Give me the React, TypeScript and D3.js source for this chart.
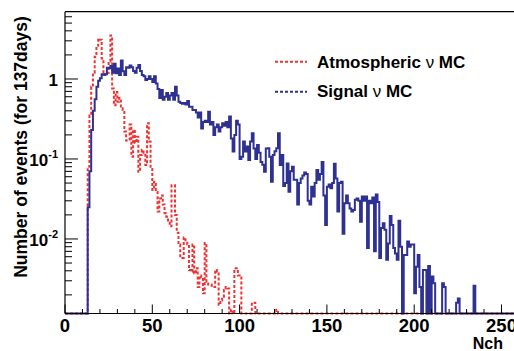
import React from "react";
import * as d3 from "d3";

const W = 514;
const H = 351;
const plotLeft = 65;
const plotTop = 11.7;
const plotBottom = 313.5;
const X_MAX = 260;
const PX_PER_NCH = 1.746;
const Y_MIN = 0.00117;
const Y_MAX = 6.94;

// axis ticks
const nchTicks = [0, 50, 100, 150, 200, 250];
const yMajorValues = [1, 0.1, 0.01];
const yMajorLabels = [
  { base: "1", exp: "" },
  { base: "10", exp: "-1" },
  { base: "10", exp: "-2" },
];

// first filled bin (Nch), bins are 1 Nch wide
const binStart = 13;

// Signal nu MC, events per bin from Nch = 13
const signalMC = [
  0.025, 0.07, 0.23, 0.40, 0.56, 0.80, 0.95, 1.02, 1.15, 1.13,
  1.15, 1.38, 1.36, 1.45, 1.20, 1.55, 1.18, 1.35, 1.12, 1.70,
  1.25, 1.12, 1.40, 1.38, 1.48, 1.40, 1.26, 1.20, 1.38, 1.50,
  1.26, 1.12, 1.08, 0.97, 1.00, 1.08, 1.00, 0.92, 1.08, 0.88,
  0.75, 0.58, 0.73, 0.55, 0.60, 0.67, 0.55, 0.62,
  0.67, 0.55, 0.80, 0.62, 0.52, 0.50, 0.49, 0.50, 0.48, 0.53,
  0.45, 0.45, 0.41, 0.41, 0.38, 0.33, 0.38, 0.24, 0.29, 0.30,
  0.29, 0.39, 0.27, 0.29, 0.20, 0.25, 0.27, 0.22, 0.25, 0.28,
  0.26, 0.29, 0.25, 0.34, 0.18, 0.124, 0.20, 0.30, 0.27, 0.10,
  0.107, 0.165, 0.124, 0.143, 0.097, 0.165, 0.21, 0.135, 0.10, 0.15,
  0.12, 0.092, 0.085, 0.069, 0.135, 0.136, 0.107,
  0.052, 0.112, 0.125, 0.136, 0.21, 0.084, 0.112, 0.046, 0.05, 0.088,
  0.039, 0.07, 0.08, 0.055, 0.055, 0.027, 0.05, 0.057, 0.062, 0.068,
  0.065, 0.03, 0.027, 0.045, 0.034, 0.05, 0.073, 0.055, 0.065, 0.092,
  0.035, 0.015, 0.045, 0.048, 0.043, 0.05, 0.087, 0.057, 0.022, 0.05,
  0.052, 0.0116, 0.028, 0.035, 0.028, 0.024, 0.022, 0.023, 0.031, 0.032,
  0.030, 0.0164, 0.034, 0.030, 0.034, 0.0077, 0.030, 0.028, 0.033, 0.007,
  0.036, 0.029,
  0.0058, 0.0137, 0.0157, 0.0130, 0.0055, 0.0088, 0.0194, 0.0150, 0.0077, 0.0066,
  0.0055, 0.0169, 0.0080, 0, 0.0063, 0.0063, 0.0093, 0.0080, 0.0085, 0.0085,
  0.0021, 0.0045, 0.0063, 0.0025, 0, 0.0041, 0.0041, 0, 0.0046, 0,
  0.0034, 0.0028, 0, 0, 0, 0, 0.0028, 0.0025, 0, 0,
  0, 0, 0, 0, 0.0016, 0.0018, 0, 0, 0, 0,
  0, 0, 0, 0, 0.0026,
];

// Atmospheric nu MC, events per bin from Nch = 13
const atmosphericMC = [
  0.08, 0.35, 0.8, 1.2, 1.9, 2.6, 3.2, 3.1, 1.8, 1.12,
  1.15, 1.2, 1.65, 3.5, 0.76, 0.47, 0.69, 0.52, 0.58, 0.43,
  0.40, 0.22, 0.17, 0.175, 0.27, 0.107, 0.23, 0.16, 0.19, 0.069,
  0.112, 0.13, 0.12, 0.084, 0.28, 0.165, 0.075, 0.041, 0.052, 0.039,
  0.022, 0.032, 0.035, 0.027, 0.021, 0.019, 0.0164, 0.0144, 0.047, 0.047,
  0.02, 0.012, 0.0085, 0.0058, 0.0058, 0.0104, 0.0090, 0.0085, 0.0041, 0.0039,
  0.0085, 0.0037, 0.0043, 0.0025, 0.0035, 0.0033, 0.0021, 0.0089, 0.0029, 0.0027,
  0.0027, 0.0026, 0.0025, 0.0041, 0.0039, 0.0015, 0.0017, 0.0019, 0.0023, 0.0025,
  0.0024, 0, 0.0013, 0, 0.0043, 0.0043, 0.0035, 0.0034, 0, 0,
  0, 0, 0, 0, 0.0016, 0.0016, 0, 0, 0, 0,
  0, 0, 0, 0, 0, 0, 0, 0, 0.0013,
];

const FONT = "'Liberation Sans', Arial, Helvetica, sans-serif";

const x = d3.scaleLinear().domain([0, X_MAX]).range([plotLeft, plotLeft + X_MAX * PX_PER_NCH]);
const y = d3.scaleLog().domain([Y_MIN, Y_MAX]).range([plotBottom, plotTop]);

// step outline over all bins, empty bins sit on the axis minimum
function histPoints(values: number[], start: number): [number, number][] {
  const pts: [number, number][] = [];
  for (let b = 0; b < X_MAX; b++) {
    const i = b - start;
    const v = i >= 0 && i < values.length ? values[i] : 0;
    pts.push([b, v], [b + 1, v]);
  }
  return pts;
}

const histLine = d3
  .line<[number, number]>()
  .x((d) => x(d[0]))
  .y((d) => y(Math.max(d[1], Y_MIN)));

// minor log ticks 2..9 in each decade
const yMinor: number[] = [];
for (let e = -3; e <= 0; e++) {
  for (let m = 2; m <= 9; m++) {
    const v = m * Math.pow(10, e);
    if (v > Y_MIN && v < Y_MAX) yMinor.push(v);
  }
}
const xMinor = d3.range(0, X_MAX + 1, 10).filter((v) => v % 50 !== 0);

const App = () => {
  const xRight = x(X_MAX);
  return (
    <svg
      width={W}
      height={H}
      style={{ position: "absolute", left: 0, top: 0, background: "#fff" }}
      fontFamily={FONT}
    >
      <defs>
        <clipPath id="plot-clip">
          <rect x={plotLeft} y={plotTop} width={xRight - plotLeft} height={plotBottom - plotTop + 2} />
        </clipPath>
      </defs>

      {/* histograms */}
      <g clipPath="url(#plot-clip)" fill="none">
        <path
          d={histLine(histPoints(atmosphericMC, binStart)) || ""}
          stroke="#f03232"
          strokeWidth={2}
          strokeDasharray="3,2"
        />
        <path
          d={histLine(histPoints(signalMC, binStart)) || ""}
          stroke="#2e3192"
          strokeWidth={2}
        />
      </g>

      {/* frame */}
      <g stroke="#000" strokeWidth={1.2} fill="none">
        <line x1={plotLeft} x2={xRight} y1={plotTop} y2={plotTop} />
        <line x1={plotLeft} x2={plotLeft} y1={plotTop} y2={plotBottom} />
        <line x1={plotLeft} x2={xRight} y1={plotBottom} y2={plotBottom} />
      </g>

      {/* x axis */}
      <g stroke="#000" strokeWidth={1}>
        {nchTicks.map((t) => (
          <line key={"xM" + t} x1={x(t)} x2={x(t)} y1={plotBottom} y2={plotBottom - 9} />
        ))}
        {xMinor.map((t) => (
          <line key={"xm" + t} x1={x(t)} x2={x(t)} y1={plotBottom} y2={plotBottom - 4.5} />
        ))}
      </g>
      {nchTicks.map((t) => (
        <text key={"xl" + t} x={x(t)} y={332} textAnchor="middle" fontSize={18.5} fontWeight="bold">
          {t}
        </text>
      ))}
      <text x={503} y={348.5} textAnchor="end" fontSize={16} fontWeight="bold">
        Nch
      </text>

      {/* y axis */}
      <g stroke="#000" strokeWidth={1}>
        {yMajorValues.map((v) => (
          <line key={"yM" + v} x1={plotLeft} x2={plotLeft + 13} y1={y(v)} y2={y(v)} />
        ))}
        {yMinor.map((v) => (
          <line key={"ym" + v} x1={plotLeft} x2={plotLeft + 7} y1={y(v)} y2={y(v)} />
        ))}
      </g>
      {yMajorValues.map((v, i) => (
        <text key={"yl" + v} x={58} y={y(v) + 7.5} textAnchor="end" fontSize={17} fontWeight="bold">
          {yMajorLabels[i].base}
          {yMajorLabels[i].exp && (
            <tspan fontSize={11} dy={-8}>
              {yMajorLabels[i].exp}
            </tspan>
          )}
        </text>
      ))}
      <text
        transform={`translate(27, 147) rotate(-90)`}
        textAnchor="middle"
        fontSize={17.5}
        fontWeight="bold"
      >
        Number of events (for 137days)
      </text>

      {/* legend */}
      <line x1={275} x2={307} y1={61.7} y2={61.7} stroke="#f03232" strokeWidth={2} strokeDasharray="3,2" />
      <text x={317} y={67.5} fontSize={17} fontWeight="bold">
        Atmospheric <tspan fontWeight="normal">ν</tspan> MC
      </text>
      <line x1={275} x2={307} y1={91.7} y2={91.7} stroke="#2e3192" strokeWidth={2} strokeDasharray="3,2" />
      <text x={317} y={97.3} fontSize={17} fontWeight="bold">
        Signal <tspan fontWeight="normal">ν</tspan> MC
      </text>
    </svg>
  );
};

export default App;
